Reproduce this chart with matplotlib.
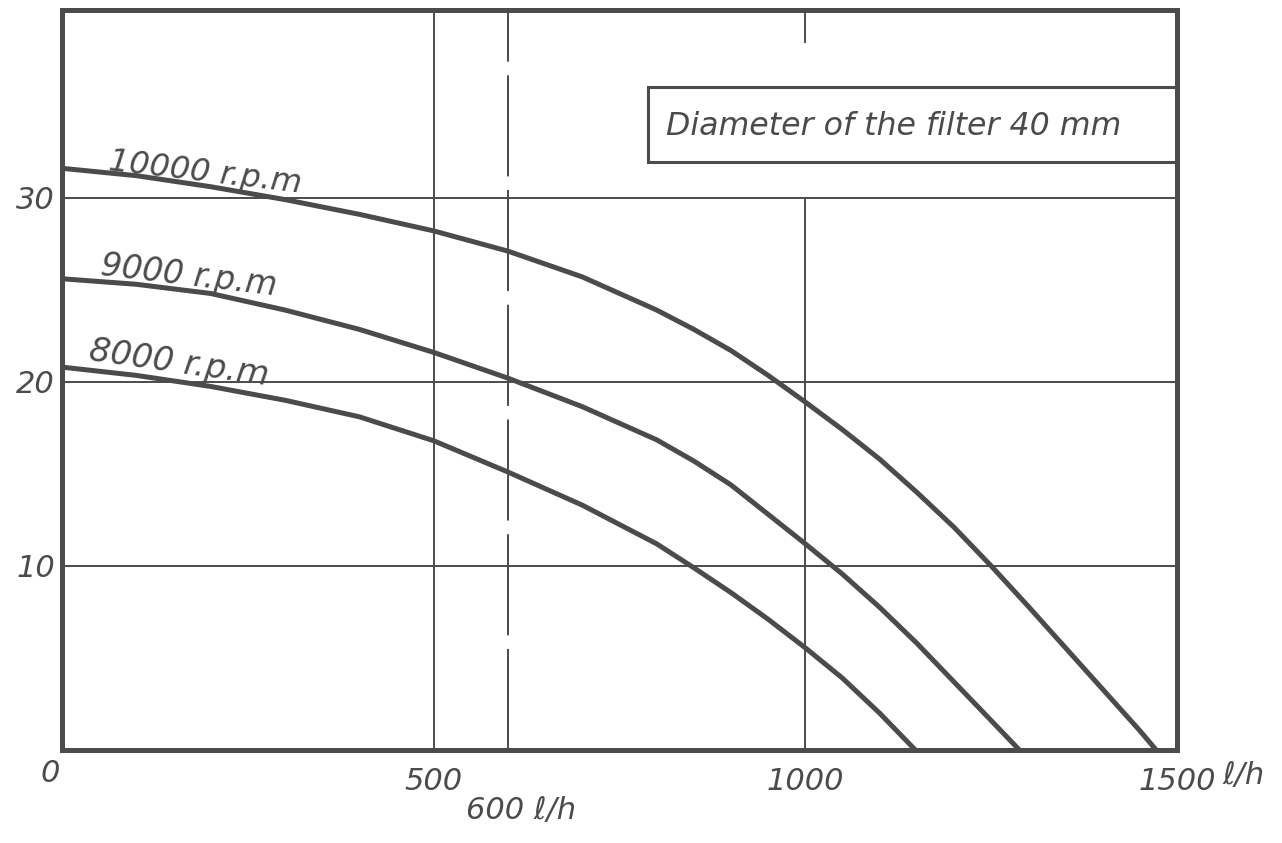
import matplotlib.pyplot as plt
from matplotlib.patches import Rectangle

# flow [l/h] vs. head
flow_10000 = [0, 100, 200, 300, 400, 500, 600, 700, 800, 850, 900, 950, 1000, 1050,
              1100, 1150, 1200, 1250, 1300, 1350, 1400, 1450, 1472]
head_10000 = [31.6, 31.2, 30.6, 29.9, 29.1, 28.2, 27.1, 25.7, 23.9, 22.85, 21.7, 20.35, 18.9, 17.4,
              15.8, 14.0, 12.1, 10.0, 7.8, 5.55, 3.3, 1.05, 0]

flow_9000 = [0, 100, 200, 300, 400, 500, 600, 700, 800, 850, 900, 950, 1000, 1050,
             1100, 1150, 1200, 1250, 1288]
head_9000 = [25.6, 25.3, 24.8, 23.9, 22.85, 21.6, 20.2, 18.65, 16.85, 15.7, 14.4, 12.8, 11.2, 9.55,
             7.75, 5.8, 3.7, 1.6, 0]

flow_8000 = [0, 100, 200, 300, 400, 500, 600, 700, 800, 850, 900, 950, 1000, 1050, 1100, 1148]
head_8000 = [20.8, 20.35, 19.75, 19.0, 18.1, 16.8, 15.1, 13.3, 11.2, 9.9, 8.55, 7.1, 5.55, 3.9,
             2.0, 0]

curve_labels = ["10000 r.p.m", "9000 r.p.m", "8000 r.p.m"]
y_ticks = [10, 20, 30]
x_ticks = [500, 1000, 1500]

ink = "#4b4b4b"
plt.rcParams["font.family"] = ["DejaVu Sans"]
plt.rcParams["font.style"] = "italic"

fig = plt.figure(figsize=(12.82, 8.43), dpi=100)
ax = fig.add_axes([62 / 1282, 93 / 843, (1177 - 62) / 1282, (750 - 10) / 843])
ax.set_xlim(0, 1500)
ax.set_ylim(0, 40.2)

for s in ax.spines.values():
    s.set_linewidth(3.6)
    s.set_color(ink)

# grid
for y in y_ticks:
    ax.axhline(y, color=ink, lw=1.4, zorder=1)
ax.axvline(500, color=ink, lw=1.4, zorder=1)
ax.axvline(600, color=ink, lw=1.4, dashes=(52, 7), zorder=1)
ax.vlines(1000, 0, 30, color=ink, lw=1.4, zorder=1)
ax.vlines(1000, 38.4, 40.2, color=ink, lw=1.4, zorder=1)

# note box
ax.add_patch(Rectangle((788, 31.95), 740, 4.05, facecolor="white",
                       edgecolor=ink, lw=2.2, zorder=2))
ax.text(813, 33.85, "Diameter of the filter 40 mm", fontsize=22.8,
        color=ink, va="center", ha="left", zorder=3)

# curves
for fl, hd in [(flow_10000, head_10000), (flow_9000, head_9000), (flow_8000, head_8000)]:
    ax.plot(fl, hd, color=ink, lw=3.6, solid_capstyle="butt", solid_joinstyle="round", zorder=4)

label_pos = [(62, 31.5, -6.7), (51, 25.8, -6.6), (35, 21.2, -8.0)]
label_size = [23, 23.5, 24]
for txt, (x, y, rot), fs in zip(curve_labels, label_pos, label_size):
    ax.text(x, y, txt, fontsize=fs, color=ink, rotation=rot,
            rotation_mode="anchor", ha="left", va="baseline", zorder=5)

ax.set_xticks(x_ticks)
ax.set_xticklabels([str(v) for v in x_ticks])
ax.set_yticks(y_ticks)
ax.set_yticklabels([str(v) for v in y_ticks])
ax.tick_params(length=0, labelsize=22, labelcolor=ink)
ax.tick_params(axis="x", pad=12)
ax.tick_params(axis="y", pad=5)

ax.text(-3, -0.5, "0", fontsize=22, color=ink, ha="right", va="top", clip_on=False)
ax.text(1561, -0.6, "\u2113/h", fontsize=22, color=ink, ha="left", va="top", clip_on=False)
ax.text(618, -2.5, "600 \u2113/h", fontsize=22, color=ink, ha="center", va="top", clip_on=False)

fig.savefig("out.png", dpi=100, facecolor="white")
